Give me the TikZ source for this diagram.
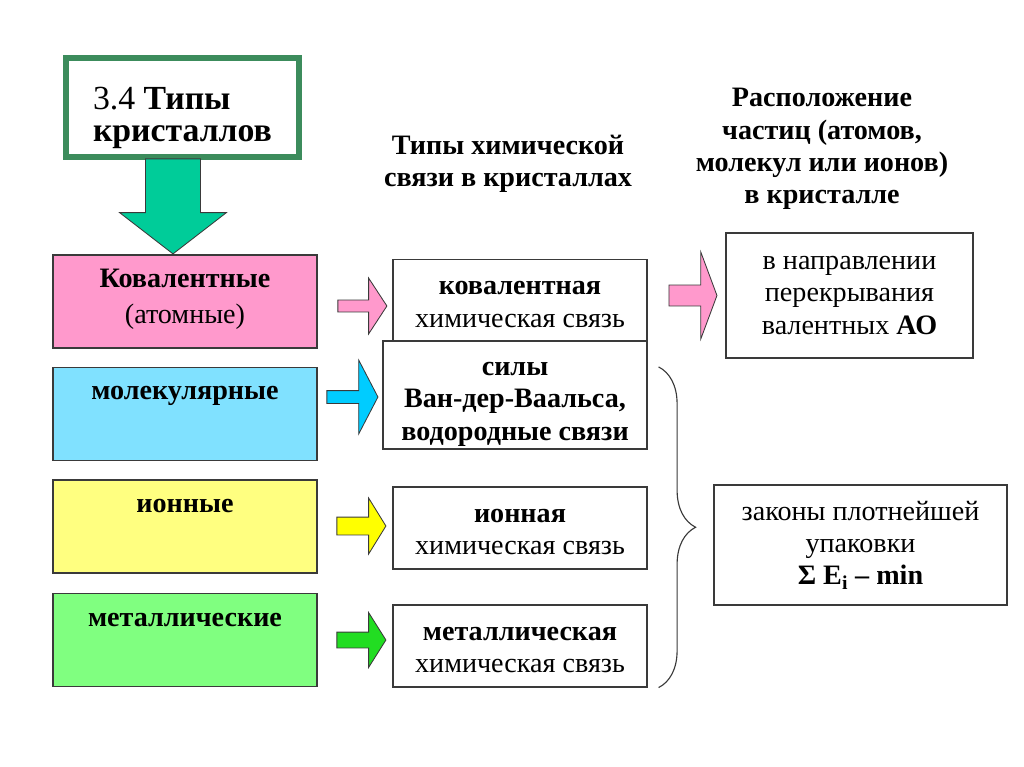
\documentclass[tikz,border=0pt]{standalone}
\usepackage{fontspec}
\setmainfont{Liberation Serif}
\usetikzlibrary{shapes.arrows,positioning,calc,decorations.pathreplacing}
\definecolor{frame}{HTML}{3C8C5C}
\definecolor{edge}{HTML}{3A3A3A}
\definecolor{covpink}{HTML}{FF99CC}
\definecolor{molblue}{HTML}{80E1FF}
\definecolor{ionyellow}{HTML}{FFFF80}
\definecolor{metgreen}{HTML}{80FF80}
\definecolor{arrblue}{HTML}{00CCFF}
\definecolor{arryellow}{HTML}{FFFF00}
\definecolor{arrgreen}{HTML}{22DD22}
\definecolor{arrteal}{HTML}{00CC99}
\tikzset{
  box/.style={draw=edge, line width=0.8pt, align=center, inner sep=0pt, font=\fontsize{20}{23}\selectfont},
  crystal/.style={box, minimum width=6.6cm, minimum height=2.325cm},
  crystext/.style={align=center, anchor=base, inner sep=0pt, font=\fontsize{20}{25.5}\selectfont},
  bond/.style={box, fill=white, minimum width=6.35cm, minimum height=2.05cm, text height=1.34cm},
  place/.style={box, fill=white},
  header/.style={align=center, anchor=base, inner sep=0pt, font=\bfseries\fontsize{20}{23}\selectfont},
  blockarr/.style={single arrow, draw=edge, line width=0.6pt, inner xsep=0pt, anchor=tip, single arrow head indent=0pt},
  brace/.style={decorate, decoration={brace, amplitude=0.925cm}, draw=edge, line width=0.8pt}
}
\begin{document}
\begin{tikzpicture}[x=0.025cm, y=-0.025cm]
\useasboundingbox (0,0) rectangle (1024,767);
% title
\node[draw=frame, line width=4.25pt, fill=white, minimum width=5.825cm, minimum height=2.475cm, text height=1.9cm, align=left, font=\fontsize{24}{23.4}\selectfont] (title) at (182.5,107.5) {3.4 \textbf{Типы}\\\textbf{кристаллов}};
% crystal types
\node[crystal, fill=covpink] (cov) at (185,301.5) {};
\node[crystal, fill=molblue] (mol) at (185,414) {};
\node[crystal, fill=ionyellow] (ion) at (185,526.5) {};
\node[crystal, fill=metgreen] (met) at (185,640) {};
\node[crystext] (covname) at ($(cov.north)+(0,69)$) {\textbf{Ковалентные}\\(атомные)};
\node[crystext] (molname) at ($(mol.north)+(0,33)$) {\textbf{молекулярные}};
\node[crystext] (ionname) at ($(ion.north)+(0,33)$) {\textbf{ионные}};
\node[crystext] (metname) at ($(met.north)+(0,34)$) {\textbf{металлические}};
\node[blockarr, rotate=-90, fill=arrteal, minimum height=2.375cm, inner ysep=0.675cm, single arrow head extend=0.65cm, single arrow tip angle=104.6] (down) at ($(cov.north)+(-12,0)$) {};
% headers
\node[header] (bondhead) at (508,187) {Типы химической\\связи в кристаллах};
\node[header] (placehead) at (822,204) {Расположение\\частиц (атомов,\\молекул или ионов)\\в кристалле};
% chemical bonds
\node[bond] (bond1) at (520,300.5) {\textbf{ковалентная}\\химическая связь};
\node[bond, minimum width=6.6cm, minimum height=2.7cm, text height=2.4cm, font=\bfseries\fontsize{20}{23}\selectfont] (bond2) at (515,395) {силы\\Ван-дер-Ваальса,\\водородные связи};
\node[bond] (bond3) at (520,528) {\textbf{ионная}\\химическая связь};
\node[bond] (bond4) at (520,646) {\textbf{металлическая}\\химическая связь};
% particle arrangement
\node[place, minimum width=6.175cm, minimum height=3.125cm] (place1) at (849.5,295.5) {в направлении\\перекрывания\\валентных \textbf{АО}};
\node[place, minimum width=7.325cm, minimum height=3cm] (place2) at (860.5,545) {законы плотнейшей\\упаковки\\\textbf{Σ E\textsubscript{i} – min}};
% block arrows
\node[blockarr, fill=covpink, minimum height=1.225cm, inner ysep=0.1375cm, single arrow head extend=0.55cm, single arrow tip angle=113.6] (arr1) at ($(bond1.west)+(-5,5.5)$) {};
\node[blockarr, fill=arrblue, minimum height=1.275cm, inner ysep=0.15cm, single arrow head extend=0.7625cm, single arrow tip angle=125] (arr2) at ($(bond2.west)+(-4,2)$) {};
\node[blockarr, fill=arryellow, minimum height=1.225cm, inner ysep=0.2125cm, single arrow head extend=0.475cm, single arrow tip angle=116.6] (arr3) at ($(bond3.west)+(-6,-2)$) {};
\node[blockarr, fill=arrgreen, minimum height=1.225cm, inner ysep=0.1875cm, single arrow head extend=0.4875cm, single arrow tip angle=115.6] (arr4) at ($(bond4.west)+(-6,-6)$) {};
\node[blockarr, fill=covpink, minimum height=1.2cm, inner ysep=0.25cm, single arrow head extend=0.825cm, single arrow tip angle=139.2] (arr5) at ($(place1.west)+(-8,0)$) {};
% brace
\draw[brace] ($(bond2.east |- mol.north)+(11,0)$) -- ($(bond4.south east)+(11,0)$);
\end{tikzpicture}
\end{document}
